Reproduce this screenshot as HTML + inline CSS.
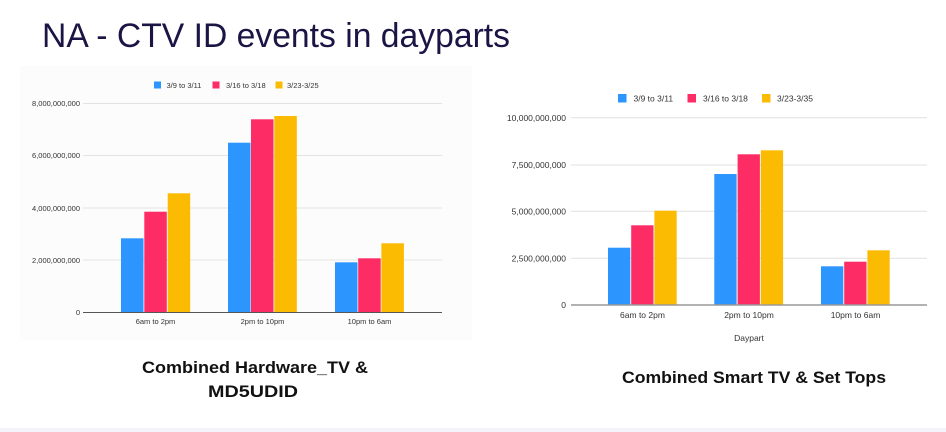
<!DOCTYPE html>
<html><head><meta charset="utf-8"><style>
html,body{margin:0;padding:0;background:#fff;}
svg{display:block;font-family:"Liberation Sans",sans-serif;}
</style></head><body>
<svg width="946" height="432" viewBox="0 0 946 432" xmlns="http://www.w3.org/2000/svg">
<rect width="946" height="432" fill="#fff"/>
<rect x="0" y="428" width="946" height="4" fill="#f4f3fb"/>
<text x="42" y="47" font-size="34" fill="#1b1545" textLength="468" lengthAdjust="spacingAndGlyphs">NA - CTV ID events in dayparts</text>

<!-- Left chart -->
<rect x="20" y="66" width="452" height="274" fill="#fcfcfc"/>
<g stroke="#e3e3e3" stroke-width="1">
<line x1="83" x2="442" y1="103.5" y2="103.5"/>
<line x1="83" x2="442" y1="155.5" y2="155.5"/>
<line x1="83" x2="442" y1="208" y2="208"/>
<line x1="83" x2="442" y1="260" y2="260"/>
</g>
<g font-size="7.5" fill="#333" text-anchor="end">
<text x="80" y="106">8,000,000,000</text>
<text x="80" y="158">6,000,000,000</text>
<text x="80" y="211">4,000,000,000</text>
<text x="80" y="263">2,000,000,000</text>
<text x="80" y="315">0</text>
</g>
<g>
<rect x="121" y="238.3" width="22.5" height="74" fill="#2d95fe"/>
<rect x="144.3" y="211.7" width="22.5" height="100.6" fill="#fe2c64"/>
<rect x="167.7" y="193.3" width="22.5" height="119" fill="#fbbb03"/>
<rect x="228" y="142.7" width="22.5" height="169.6" fill="#2d95fe"/>
<rect x="251" y="119.3" width="22.5" height="193" fill="#fe2c64"/>
<rect x="274.3" y="116" width="22.5" height="196.3" fill="#fbbb03"/>
<rect x="335" y="262.3" width="22.5" height="50" fill="#2d95fe"/>
<rect x="358.2" y="258.3" width="22.5" height="54" fill="#fe2c64"/>
<rect x="381.4" y="243.3" width="22.5" height="69" fill="#fbbb03"/>
</g>
<line x1="83" x2="442" y1="312.5" y2="312.5" stroke="#555" stroke-width="1"/>
<g font-size="7.5" fill="#333" text-anchor="middle">
<text x="155.5" y="324">6am to 2pm</text>
<text x="262.5" y="324">2pm to 10pm</text>
<text x="369.5" y="324">10pm to 6am</text>
</g>
<g font-size="7.5" fill="#333">
<rect x="154" y="81.5" width="7" height="7" fill="#2d95fe"/><text x="166.5" y="88">3/9 to 3/11</text>
<rect x="212.5" y="81.5" width="7" height="7" fill="#fe2c64"/><text x="226" y="88">3/16 to 3/18</text>
<rect x="275.5" y="81.5" width="7" height="7" fill="#fbbb03"/><text x="287" y="88">3/23-3/25</text>
</g>

<!-- Right chart -->
<g stroke="#e0e0e0" stroke-width="1">
<line x1="571" x2="927" y1="117.7" y2="117.7"/>
<line x1="571" x2="927" y1="165" y2="165"/>
<line x1="571" x2="927" y1="211.3" y2="211.3"/>
<line x1="571" x2="927" y1="258.3" y2="258.3"/>
</g>
<g font-size="8.5" fill="#333" text-anchor="end">
<text x="566" y="121">10,000,000,000</text>
<text x="566" y="168">7,500,000,000</text>
<text x="566" y="214.5">5,000,000,000</text>
<text x="566" y="261.5">2,500,000,000</text>
<text x="566" y="308">0</text>
</g>
<g>
<rect x="608" y="247.7" width="22.3" height="57.3" fill="#2d95fe"/>
<rect x="631.2" y="225.3" width="22.3" height="79.7" fill="#fe2c64"/>
<rect x="654.4" y="210.7" width="22.3" height="94.3" fill="#fbbb03"/>
<rect x="714.3" y="174" width="22.3" height="131" fill="#2d95fe"/>
<rect x="737.6" y="154.3" width="22.3" height="150.7" fill="#fe2c64"/>
<rect x="760.8" y="150.3" width="22.3" height="154.7" fill="#fbbb03"/>
<rect x="821" y="266.3" width="22.3" height="38.7" fill="#2d95fe"/>
<rect x="844.2" y="261.7" width="22.3" height="43.3" fill="#fe2c64"/>
<rect x="867.4" y="250.3" width="22.3" height="54.7" fill="#fbbb03"/>
</g>
<line x1="571" x2="927" y1="305" y2="305" stroke="#999" stroke-width="1.5"/>
<g font-size="8.5" fill="#333" text-anchor="middle">
<text x="642.5" y="318">6am to 2pm</text>
<text x="749" y="318">2pm to 10pm</text>
<text x="855.5" y="318">10pm to 6am</text>
<text x="749" y="341">Daypart</text>
</g>
<g font-size="8.5" fill="#333">
<rect x="618" y="94" width="8.5" height="8.5" fill="#2d95fe"/><text x="633.5" y="101.5">3/9 to 3/11</text>
<rect x="687.5" y="94" width="8.5" height="8.5" fill="#fe2c64"/><text x="703" y="101.5">3/16 to 3/18</text>
<rect x="762" y="94" width="8.5" height="8.5" fill="#fbbb03"/><text x="777" y="101.5">3/23-3/35</text>
</g>

<!-- Captions -->
<g font-size="17" font-weight="bold" fill="#111" text-anchor="middle">
<text x="255" y="373" textLength="226" lengthAdjust="spacingAndGlyphs">Combined Hardware_TV &amp;</text>
<text x="253" y="397" textLength="90" lengthAdjust="spacingAndGlyphs">MD5UDID</text>
<text x="754" y="383" textLength="264" lengthAdjust="spacingAndGlyphs">Combined Smart TV &amp; Set Tops</text>
</g>
</svg>
</body></html>
